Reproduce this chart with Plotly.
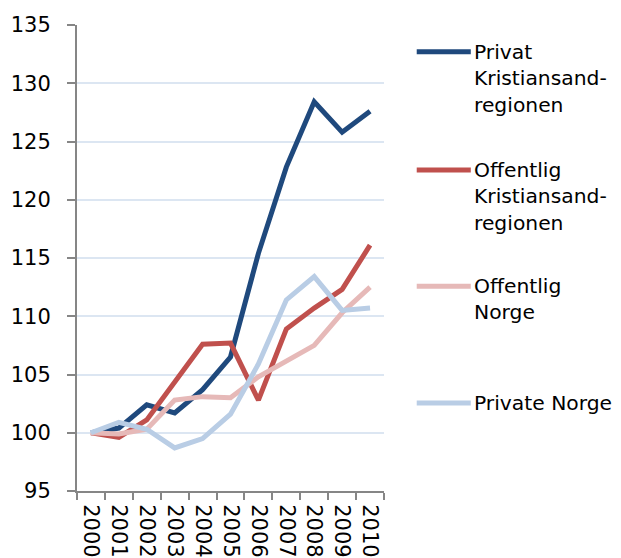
import plotly.graph_objects as go

years = ["2000", "2001", "2002", "2003", "2004", "2005", "2006", "2007", "2008", "2009", "2010"]
privat_krs = [100, 100.4, 102.4, 101.7, 103.7, 106.5, 115.4, 122.8, 128.4, 125.8, 127.6]
offentlig_krs = [100, 99.6, 101.1, 104.4, 107.6, 107.7, 102.8, 108.9, 110.7, 112.3, 116.1]
offentlig_norge = [100, 99.9, 100.3, 102.8, 103.1, 103.0, 104.8, 106.1, 107.5, 110.3, 112.5]
private_norge = [100, 100.9, 100.3, 98.7, 99.5, 101.6, 105.9, 111.4, 113.4, 110.5, 110.7]

series_names = ["Privat<br>Kristiansand-<br>regionen", "Offentlig<br>Kristiansand-<br>regionen",
                "Offentlig<br>Norge", "Private Norge"]
series_values = [privat_krs, offentlig_krs, offentlig_norge, private_norge]
colors = ["#1F497D", "#C0504D", "#E6B9B8", "#B9CDE5"]
y_ticks = [95, 100, 105, 110, 115, 120, 125, 130, 135]

FONT = "DejaVu Sans, Arial, sans-serif"
FS = 21
LFS = 20.3

fig = go.Figure()
for name, vals, col in zip(series_names, series_values, colors):
    fig.add_trace(go.Scatter(x=years, y=vals, mode="lines", name=name,
                             line=dict(color=col, width=5), showlegend=False))

# manual legend (line sample + multi-line label, first line aligned with the sample)
legend_y = [0.9427, 0.6888, 0.4394, 0.1888]
top_off = 14 / 466
for name, col, ly in zip(series_names, colors, legend_y):
    fig.add_shape(type="line", xref="paper", yref="paper", x0=1.1066, x1=1.2827, y0=ly, y1=ly,
                  line=dict(color=col, width=5))
    fig.add_annotation(xref="paper", yref="paper", x=1.287, y=ly + top_off, xanchor="left",
                       yanchor="top", text=name, showarrow=False, align="left",
                       font=dict(family=FONT, size=LFS, color="black"))

fig.update_layout(
    width=621, height=558,
    margin=dict(l=69, r=245, t=17, b=75),
    paper_bgcolor="white", plot_bgcolor="white",
    font=dict(family=FONT, size=FS, color="black"),
    showlegend=False,
)
fig.update_xaxes(type="category", tickangle=90, tickson="boundaries", ticks="outside", ticklen=7,
                 tickcolor="#868686", tickwidth=2, showline=True, linecolor="#868686", linewidth=2,
                 showgrid=False, automargin=False, tickfont=dict(size=FS), range=[-0.5, 10.5],
                 ticklabelstandoff=7)
fig.update_yaxes(range=[95, 135], tickvals=y_ticks, ticks="outside", ticklen=8, tickcolor="#868686",
                 tickwidth=2, showline=True, linecolor="#868686", linewidth=2, showgrid=True,
                 gridcolor="#DCE6F2", gridwidth=2, zeroline=False, automargin=False,
                 tickfont=dict(size=FS), ticklabelstandoff=12)

fig.write_html("out.html")
